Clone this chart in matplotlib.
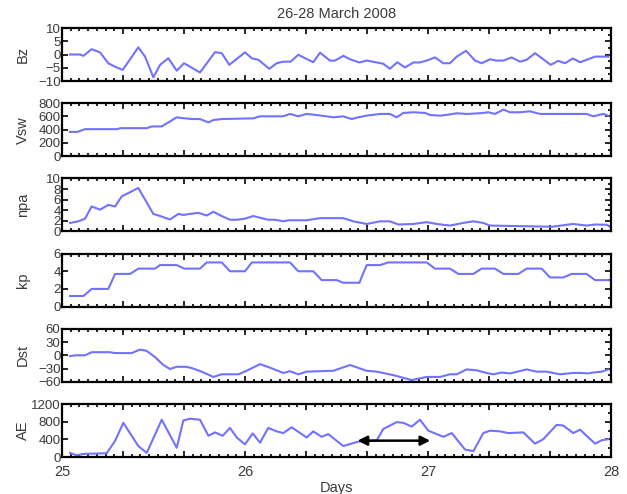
import matplotlib
matplotlib.use("Agg")
import matplotlib.pyplot as plt
from matplotlib.ticker import MultipleLocator

plt.rcParams['font.family'] = ['Liberation Sans Narrow', 'Liberation Sans', 'DejaVu Sans']

# Solar wind / geomagnetic parameters, 25-28 March 2008 (time in days)
bz_t = [25.044, 25.098, 25.117, 25.162, 25.208, 25.253, 25.290, 25.332, 25.417, 25.454,
        25.499, 25.536, 25.581, 25.627, 25.667, 25.754, 25.836, 25.873, 25.914, 26.000,
        26.037, 26.073, 26.133, 26.173, 26.209, 26.250, 26.291, 26.328, 26.373, 26.410,
        26.464, 26.492, 26.537, 26.574, 26.625, 26.665, 26.720, 26.756, 26.792, 26.832,
        26.874, 26.920, 26.956, 26.993, 27.038, 27.084, 27.120, 27.157, 27.208, 27.257,
        27.293, 27.339, 27.375, 27.412, 27.457, 27.503, 27.539, 27.585, 27.630, 27.670,
        27.712, 27.749, 27.791, 27.831, 27.867, 27.913, 27.985]
bz = [0.0, 0.0, -0.5, 2.0, 0.8, -3.3, -4.6, -5.8, 2.7, -0.8,
      -8.6, -3.9, -1.4, -6.1, -3.3, -6.8, 0.9, 0.5, -3.9, 0.8,
      -1.4, -2.0, -5.4, -3.3, -2.7, -2.7, -0.1, -1.4, -2.9, 0.7,
      -2.3, -2.3, -0.5, -1.8, -3.0, -2.3, -3.0, -3.5, -5.4, -2.9,
      -4.9, -3.0, -3.0, -2.3, -1.1, -3.3, -3.3, -0.8, 1.4, -2.3,
      -3.3, -1.8, -2.3, -2.3, -1.1, -2.7, -2.0, 0.5, -1.8, -3.9,
      -2.4, -3.3, -1.5, -2.9, -2.0, -0.8, -0.8]

vsw_t = [25.044, 25.084, 25.126, 25.299, 25.321, 25.463, 25.490, 25.545, 25.627, 25.654,
         25.709, 25.754, 25.800, 25.827, 25.873, 26.045, 26.082, 26.209, 26.246, 26.291,
         26.337, 26.410, 26.483, 26.537, 26.583, 26.619, 26.665, 26.738, 26.792, 26.829,
         26.865, 26.920, 26.984, 27.011, 27.066, 27.111, 27.157, 27.211, 27.284, 27.330,
         27.366, 27.412, 27.448, 27.503, 27.557, 27.612, 27.867, 27.903, 27.958, 27.985]
vsw = [367, 367, 408, 408, 423, 423, 449, 449, 587, 576,
       561, 561, 510, 546, 561, 571, 602, 602, 638, 602,
       638, 615, 587, 602, 561, 587, 612, 638, 638, 587,
       653, 663, 653, 622, 612, 627, 648, 638, 648, 663,
       638, 704, 663, 663, 678, 638, 638, 602, 638, 612]

npa_t = [25.044, 25.089, 25.126, 25.162, 25.208, 25.253, 25.290, 25.326, 25.372, 25.417,
         25.499, 25.545, 25.590, 25.636, 25.663, 25.699, 25.745, 25.791, 25.827, 25.873,
         25.918, 25.955, 26.000, 26.045, 26.091, 26.127, 26.164, 26.209, 26.237, 26.337,
         26.410, 26.537, 26.592, 26.665, 26.738, 26.792, 26.838, 26.920, 26.993, 27.047,
         27.120, 27.193, 27.248, 27.302, 27.339, 27.648, 27.685, 27.758, 27.794, 27.867,
         27.913, 27.976, 27.995]
npa = [1.6, 1.9, 2.4, 4.7, 4.1, 5.0, 4.7, 6.6, 7.4, 8.2,
       3.3, 2.8, 2.25, 3.3, 3.1, 3.3, 3.5, 3.0, 3.7, 2.9,
       2.2, 2.2, 2.4, 2.9, 2.5, 2.2, 2.2, 1.9, 2.1, 2.1,
       2.5, 2.5, 1.9, 1.4, 1.9, 1.9, 1.3, 1.4, 1.75, 1.4,
       1.1, 1.6, 1.9, 1.6, 1.1, 0.9, 0.9, 1.25, 1.4, 1.1,
       1.3, 1.25, 0.9]

kp_t = [25.044, 25.117, 25.162, 25.253, 25.290, 25.372, 25.417, 25.508, 25.536, 25.627,
        25.667, 25.754, 25.791, 25.873, 25.918, 26.000, 26.037, 26.246, 26.291, 26.373,
        26.419, 26.501, 26.537, 26.625, 26.665, 26.738, 26.784, 26.993, 27.038, 27.120,
        27.166, 27.248, 27.293, 27.366, 27.412, 27.494, 27.539, 27.621, 27.667, 27.739,
        27.785, 27.867, 27.913, 27.985]
kp = [1.2, 1.2, 2.0, 2.0, 3.7, 3.7, 4.3, 4.3, 4.7, 4.7,
      4.3, 4.3, 5.0, 5.0, 4.0, 4.0, 5.0, 5.0, 4.0, 4.0,
      3.0, 3.0, 2.7, 2.7, 4.7, 4.7, 5.0, 5.0, 4.3, 4.3,
      3.7, 3.7, 4.3, 4.3, 3.7, 3.7, 4.3, 4.3, 3.3, 3.3,
      3.7, 3.7, 3.0, 3.0]

dst_t = [25.044, 25.071, 25.126, 25.162, 25.262, 25.290, 25.381, 25.426, 25.463, 25.508,
         25.554, 25.590, 25.627, 25.681, 25.717, 25.763, 25.827, 25.873, 25.964, 26.009,
         26.082, 26.137, 26.209, 26.246, 26.291, 26.337, 26.410, 26.483, 26.574, 26.665,
         26.720, 26.811, 26.911, 26.993, 27.066, 27.120, 27.157, 27.211, 27.266, 27.320,
         27.357, 27.403, 27.448, 27.539, 27.594, 27.648, 27.721, 27.794, 27.831, 27.876,
         27.903, 27.949, 27.985]
dst = [-2, 0, 0, 7, 7, 5, 5, 13, 10, -4,
       -22, -31, -26, -26, -30, -37, -49, -43, -43, -35,
       -20, -28, -40, -36, -43, -37, -36, -35, -22, -35,
       -37, -45, -56, -49, -49, -43, -43, -32, -34, -40,
       -43, -39, -41, -32, -37, -37, -43, -40, -40, -41,
       -39, -37, -32]

ae_t = [25.044, 25.080, 25.117, 25.244, 25.290, 25.335, 25.381, 25.417, 25.463, 25.545,
        25.627, 25.663, 25.699, 25.754, 25.800, 25.836, 25.878, 25.918, 25.955, 26.000,
        26.042, 26.082, 26.127, 26.173, 26.209, 26.255, 26.337, 26.373, 26.419, 26.455,
        26.537, 26.619, 26.720, 26.756, 26.829, 26.865, 26.911, 26.956, 27.002, 27.084,
        27.130, 27.202, 27.248, 27.302, 27.339, 27.393, 27.439, 27.521, 27.585, 27.630,
        27.703, 27.739, 27.794, 27.831, 27.913, 27.949, 27.985]
ae = [93, 39, 70, 85, 364, 774, 480, 248, 93, 844,
      209, 828, 867, 844, 480, 557, 480, 658, 441, 286,
      534, 325, 658, 580, 542, 673, 441, 580, 457, 519,
      248, 348, 379, 635, 790, 774, 689, 844, 596, 457,
      542, 170, 132, 542, 596, 580, 542, 557, 302, 403,
      728, 712, 542, 619, 302, 379, 403]

# double arrow marking the interval of interest on the AE panel
arrow_start, arrow_end, arrow_level = 26.615, 27.012, 370

panels = [
    ("Bz", bz_t, bz, (-10, 10), 5),
    ("Vsw", vsw_t, vsw, (0, 800), 200),
    ("npa", npa_t, npa, (0, 10), 2),
    ("kp", kp_t, kp, (0, 6), 2),
    ("Dst", dst_t, dst, (-60, 60), 30),
    ("AE", ae_t, ae, (0, 1200), 400),
]

line_color = "#7272ff"
text_color = "#3a3a3a"

fig = plt.figure(figsize=(6.27, 4.94), dpi=100)
W, H = 627, 494
left, right = 62, 611
axes = []
for i, (name, t, v, ylim, step) in enumerate(panels):
    top = 28 + 75.2 * i
    ax = fig.add_axes([left / W, 1 - (top + 53) / H, (right - left) / W, 53 / H])
    ax.plot(t, v, color=line_color, lw=1.5)
    ax.set_xlim(25, 28)
    ax.set_ylim(*ylim)
    ax.yaxis.set_major_locator(MultipleLocator(step))
    ax.yaxis.set_minor_locator(MultipleLocator(step / 2))
    ax.xaxis.set_major_locator(MultipleLocator(1 / 3))
    ax.xaxis.set_minor_locator(MultipleLocator(1 / 21))
    ax.tick_params(which="both", direction="in", top=True, right=True,
                   labelsize=9.5, labelcolor=text_color, pad=1, width=1.2)
    ax.tick_params(which="major", length=4)
    ax.tick_params(which="minor", length=2.5, left=False)
    ax.set_ylabel(name, fontsize=10.5, color=text_color)
    ax.yaxis.set_label_coords(-0.058, 0.5)
    for s in ax.spines.values():
        s.set_linewidth(1.6)
    if i < len(panels) - 1:
        ax.set_xticklabels([])
    axes.append(ax)

ax = axes[-1]
ax.xaxis.set_major_formatter(plt.FuncFormatter(
    lambda x, pos: f"{int(round(x))}" if abs(x - round(x)) < 1e-6 else ""))
ax.tick_params(axis="x", labelsize=10.5, pad=6)
ax.set_xlabel("Days", fontsize=10.5, color=text_color, labelpad=1)
ax.annotate("", xy=(arrow_start, arrow_level), xytext=(arrow_end, arrow_level),
            arrowprops=dict(arrowstyle="<|-|>", color="black", lw=1.8,
                            mutation_scale=14, shrinkA=0, shrinkB=0))

fig.text((left + right) / 2 / W, 1 - 14 / H, "26-28 March 2008",
         ha="center", va="center", fontsize=10.5, color=text_color)

fig.savefig("out.png", dpi=100)
